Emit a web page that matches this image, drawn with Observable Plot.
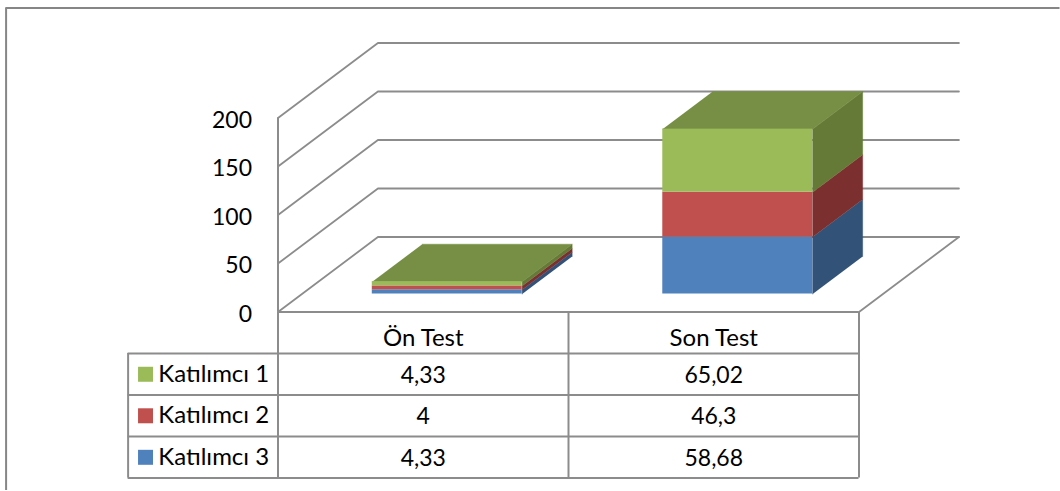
<!DOCTYPE html>
<html>
<head>
<meta charset="utf-8">
<script src="https://cdn.jsdelivr.net/npm/d3@7"></script>
<script src="https://cdn.jsdelivr.net/npm/@observablehq/plot@0.6"></script>
<style>
html,body{margin:0;padding:0;background:#fff;overflow:hidden}
svg{display:block}
</style>
</head>
<body>
<div id="chart"></div>
<script>
const categories = ["Ön Test", "Son Test"];
const seriesNames = ["Katılımcı 1", "Katılımcı 2", "Katılımcı 3"];
const katilimci1 = [4.33, 65.02];
const katilimci2 = [4, 46.3];
const katilimci3 = [4.33, 58.68];
const yTicks = [0, 50, 100, 150, 200];
const frontColors = ["#9BBB59", "#C0504D", "#4F81BD"];
const topColor = "#778F45";
const sideColors = ["#657A37", "#7B302F", "#325278"];
const lineColor = "#8C8C8C";
const FONT = "Lato, 'Open Sans', sans-serif";

// Oblique projection, expressed in data units of the x and y scales
const depthX = 0.344, depthY = 77.3;
const front = 0.24, back = 0.74, barInset = 0.242;
const rowH = 42.8;
const px = (c, d) => c + d * depthX;
const py = (v, d) => v + d * depthY;

// stacks (bottom to top: Katılımcı 3, 2, 1)
const stacked = [];
categories.forEach((cat, c) => {
  let base = 0;
  [[katilimci3, 2], [katilimci2, 1], [katilimci1, 0]].forEach(([vals, s]) => {
    stacked.push({c, s, y0: base, y1: base + vals[c]});
    base += vals[c];
  });
});

const polys = [];
stacked.forEach((b, i) => {
  const xa = b.c + barInset, xb = b.c + 1 - barInset;
  // side face
  [[xb, b.y0, front], [xb, b.y1, front], [xb, b.y1, back], [xb, b.y0, back]].forEach(([x, v, d]) =>
    polys.push({id: "side" + i, x: px(x, d), y: py(v, d), color: sideColors[b.s]}));
  // top face of a stack
  if (b.s === 0) {
    [[xa, front], [xb, front], [xb, back], [xa, back]].forEach(([x, d]) =>
      polys.push({id: "top" + i, x: px(x, d), y: py(b.y1, d), color: topColor}));
  }
});
const faces = stacked.map(b => ({
  x1: px(b.c + barInset, front), x2: px(b.c + 1 - barInset, front),
  y1: py(b.y0, front), y2: py(b.y1, front), color: frontColors[b.s]
}));

// Walls and floor
const wall = [];
yTicks.forEach(t => {
  wall.push({id: t, x: 0, y: py(t, 0)}, {id: t, x: px(0, 1), y: py(t, 1)}, {id: t, x: px(2, 1), y: py(t, 1)});
});
const floorEdge = [{x: 2, y: 0}, {x: px(2, 1), y: py(0, 1)}];

// Table geometry in scale units
const tableLeft = -0.516, tableRows = [0, 1, 2, 3, 4].map(i => -i * rowH);
const frameLeft = -0.936, frameRight = 2.692, frameTop = 313.4, frameBottom = -184;
const rowCenter = i => -(i + 0.5) * rowH;
const fmt = v => String(v).replace(".", ",");
const cells = [];
[katilimci1, katilimci2, katilimci3].forEach((vals, s) =>
  vals.forEach((v, c) => cells.push({x: c + 0.5, y: rowCenter(s + 1), text: fmt(v)})));
const headers = categories.map((t, c) => ({x: c + 0.5, y: rowCenter(0), text: t}));
const legendRows = seriesNames.map((t, s) => ({text: t, y: rowCenter(s + 1), color: frontColors[s]}));

const plot = Plot.plot({
  width: 1060,
  height: 491,
  marginLeft: 277.5,
  marginRight: 201.5,
  marginTop: 117.5,
  marginBottom: 179.5,
  style: {background: "#fff", fontFamily: FONT},
  x: {domain: [0, 2], axis: null},
  y: {domain: [0, 200], axis: null},
  color: {type: "identity"},
  marks: [
    // outer chart frame
    Plot.ruleX([frameLeft], {y1: frameBottom, y2: frameTop, stroke: "#868686", strokeWidth: 2}),
    Plot.ruleY([frameTop], {x1: frameLeft, x2: frameRight, stroke: "#868686", strokeWidth: 2}),
    // walls
    Plot.line(wall, {x: "x", y: "y", z: "id", stroke: lineColor, strokeWidth: 1.8}),
    Plot.line(floorEdge, {x: "x", y: "y", stroke: lineColor, strokeWidth: 1.8}),
    Plot.axisY({ticks: yTicks, tickSize: 0, tickPadding: 26, dy: 2.5, label: null, fontSize: 23, fill: "#000", tickFormat: d => d}),
    // bars
    Plot.line(polys, {x: "x", y: "y", z: "id", fill: "color", stroke: "color", strokeWidth: 0.5}),
    Plot.rect(faces, {x1: "x1", x2: "x2", y1: "y1", y2: "y2", fill: "color"}),
    // data table
    Plot.ruleY(tableRows.slice(0, 1), {x1: 0, x2: 2, stroke: lineColor, strokeWidth: 2}),
    Plot.ruleY(tableRows.slice(1), {x1: tableLeft, x2: 2, stroke: lineColor, strokeWidth: 2}),
    Plot.ruleX([0, 1, 2], {y1: tableRows[4], y2: 0, stroke: lineColor, strokeWidth: 2}),
    Plot.ruleX([0], {y1: 0, y2: 200, stroke: lineColor, strokeWidth: 2}),
    Plot.ruleX([tableLeft], {y1: tableRows[4], y2: tableRows[1], stroke: lineColor, strokeWidth: 2}),
    Plot.text(headers, {x: "x", y: "y", text: "text", fontSize: 24, fill: "#000", dy: 5.5}),
    Plot.text(cells, {x: "x", y: "y", text: "text", fontSize: 23, fill: "#000", dy: 1}),
    Plot.dot(legendRows, {x: -0.456, y: "y", symbol: "square", r: 8.46, fill: "color", stroke: null}),
    Plot.text(legendRows, {x: -0.412, y: "y", text: "text", textAnchor: "start", fontSize: 24, fill: "#000", dy: 0})
  ]
});
document.getElementById("chart").appendChild(plot);
</script>
</body>
</html>
